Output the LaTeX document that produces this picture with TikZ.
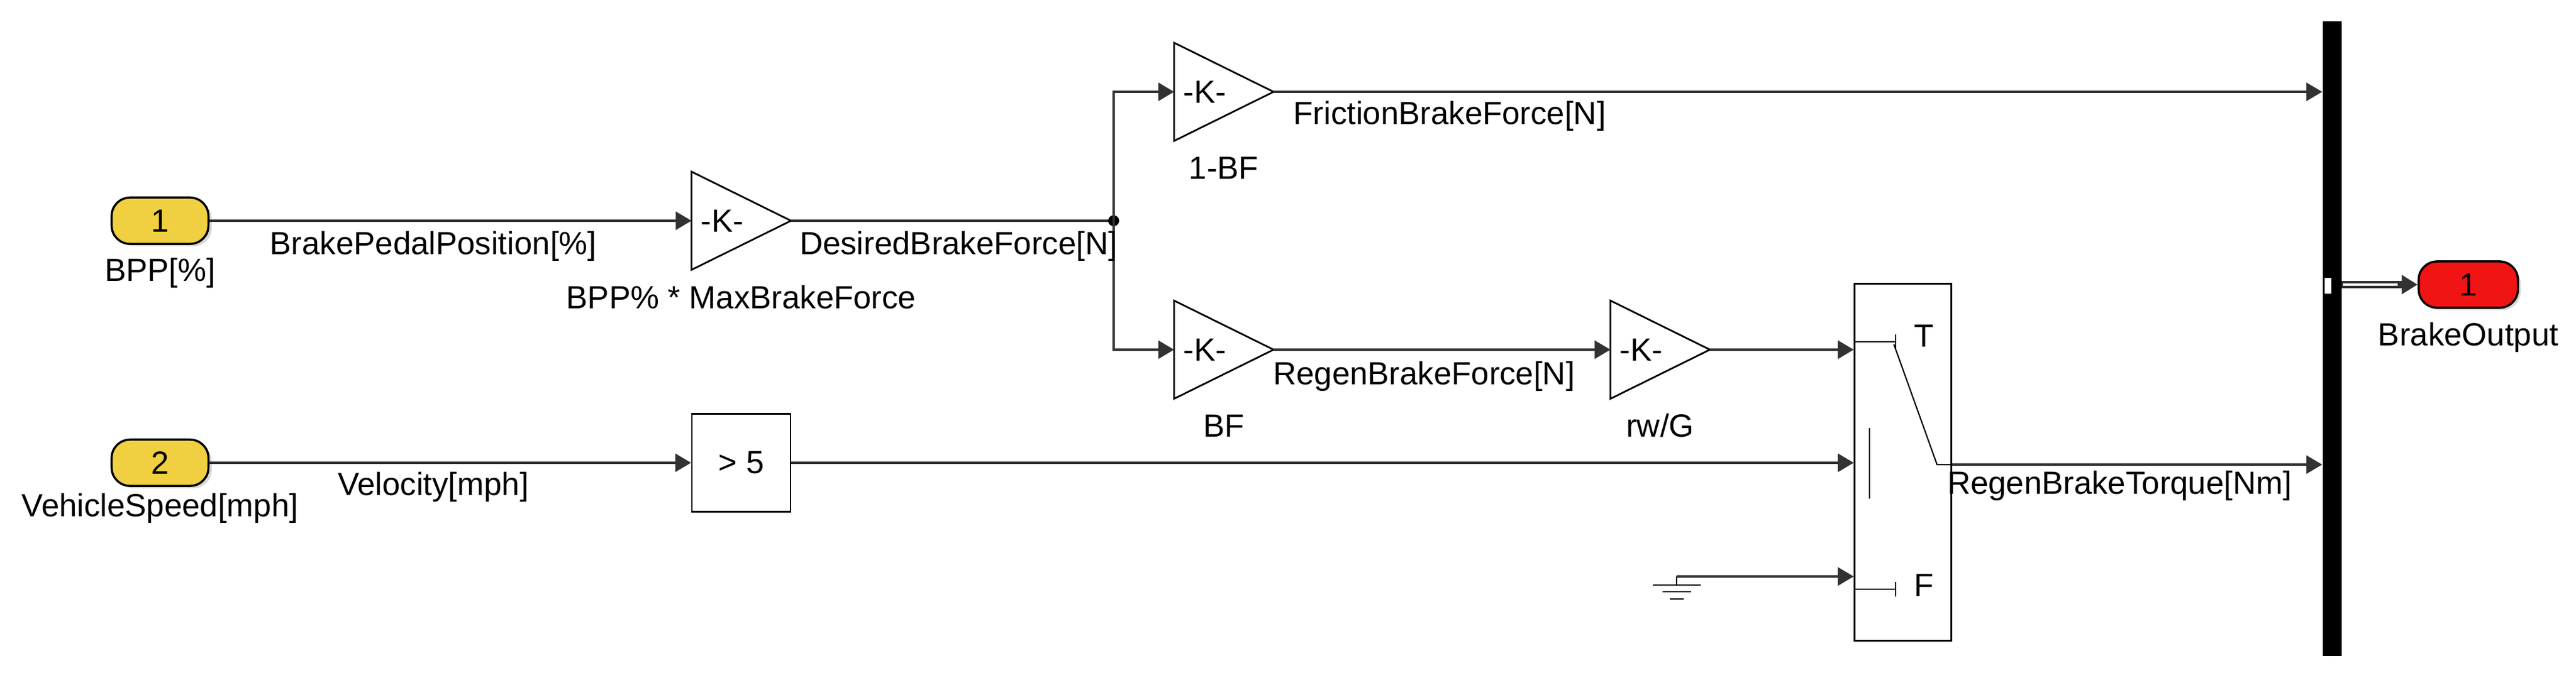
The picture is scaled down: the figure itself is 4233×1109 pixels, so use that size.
\documentclass[tikz,border=0pt]{standalone}
\usepackage{fontspec}
\setmainfont{Liberation Sans}
\usetikzlibrary{arrows.meta,calc}
\definecolor{inY}{RGB}{240,208,64}
\definecolor{outR}{RGB}{240,20,20}
\definecolor{wire}{RGB}{50,50,50}
\begin{document}
\begin{tikzpicture}[x=0.01cm,y=-0.01cm,
  font=\fontsize{15pt}{18pt}\selectfont,
  sig/.style={draw=wire,line width=0.9pt,-{Triangle[length=0.26cm,width=0.3cm]}},
  wr/.style={draw=wire,line width=0.9pt},
  port/.style={rounded corners=0.3cm,minimum width=1.59cm,minimum height=0.76cm,draw=black,line width=1pt,inner sep=0pt},
  shad/.style={rounded corners=0.3cm,fill=gray!30},
  gain/.style={minimum width=1.62cm,minimum height=1.6cm,inner sep=0pt,draw=none},
  lbl/.style={inner sep=0pt}]
\useasboundingbox (0,0) rectangle (4233,1109);
% inports
\fill[shad] (189,331) rectangle (348,405);
\node[port,fill=inY] (in1) at (263,363) {1};
\node[lbl] at (263,449) {BPP[\%]};
\fill[shad] (189,729) rectangle (348,803);
\node[port,fill=inY] (in2) at (263,761) {2};
\node[lbl] at (263,836) {VehicleSpeed[mph]};
% gains
\foreach \n/\x/\y in {gbpp/1218/363, g1/2011/151, gbf/2011/575, grw/2728/575}{
  \node[gain] (\n) at (\x,\y) {};
  \draw[line width=0.8pt] (\n.north west) -- (\n.east) -- (\n.south west) -- cycle;
  \node[lbl,anchor=west] at ([xshift=0.15cm]\n.west) {-K-};
}
\node[lbl] at (1218,489) {BPP\% * MaxBrakeForce};
\node[lbl] at (2011,276) {1-BF};
\node[lbl] at (2011,700) {BF};
\node[lbl] at (2728,700) {rw/G};
% compare
\node[draw,line width=0.8pt,minimum width=1.62cm,minimum height=1.61cm] (cmp) at (1218,761) {> 5};
% switch
\node[draw,line width=0.8pt,minimum width=1.59cm,minimum height=5.87cm] (sw) at (3127,760) {};
\coordinate (swo) at (3183,764);
\draw[line width=0.6pt] (3048,562) -- (3115,562) (3115,550) -- (3115,574);
\draw[line width=0.6pt] (3048,969) -- (3115,969) (3115,957) -- (3115,981);
\draw[line width=0.6pt] (3072,704) -- (3072,820);
\draw[line width=0.6pt] (3112,566) -- (swo) -- (sw.east |- swo);
\node[lbl] at (3162,552) {T};
\node[lbl] at (3162,962) {F};
% ground
\coordinate (gnd) at (2755,948);
\draw[line width=0.7pt] (2755,962) -- (gnd) (2716,962) -- (2795,962) (2732,973) -- (2779,973) (2744,985) -- (2767,985);
% bus
\node[fill=black,minimum width=0.31cm,minimum height=10.44cm,inner sep=0pt] (bus) at (3832,557) {};
\fill[white] (3819,456) rectangle (3832,484);
\draw[line width=0.5pt] (3819,456) rectangle (3832,484);
% outport
\fill[shad] (3979,436) rectangle (4142,510);
\node[port,fill=outR,minimum width=1.63cm] (out) at (4056,468) {1};
\node[lbl] at (4056,555) {BrakeOutput};
% wires
\draw[sig] (in1.east) -- (gbpp.west);
\coordinate (br) at (1830,363);
\draw[wr] (gbpp.east) -- (br);
\fill (br) circle (0.09cm);
\draw[sig] (br) |- (g1.west);
\draw[sig] (br) |- (gbf.west);
\draw[sig] (g1.east) -- (g1.east -| bus.west);
\draw[sig] (gbf.east) -- (grw.west);
\draw[sig] (grw.east) -- (grw.east -| sw.west);
\draw[sig] (in2.east) -- (cmp.west);
\draw[sig] (cmp.east) -- (cmp.east -| sw.west);
\draw[sig] (gnd) -- (gnd -| sw.west);
\draw[sig] (sw.east |- swo) -- (swo -| bus.west);
\draw[line width=3.2pt,draw=wire,-{Triangle[length=0.26cm,width=0.3cm]}] (bus.east |- out) -- (out.west);
\draw[line width=1.4pt,white] (3850,468) -- (3940,468);
% signal labels
\node[lbl] at (712,405) {BrakePedalPosition[\%]};
\node[lbl] at (1575,405) {DesiredBrakeForce[N]};
\node[lbl,anchor=west] at (2125,191) {FrictionBrakeForce[N]};
\node[lbl] at (2340,619) {RegenBrakeForce[N]};
\node[lbl] at (712,801) {Velocity[mph]};
\node[lbl] at (3483,799) {RegenBrakeTorque[Nm]};
\end{tikzpicture}
\end{document}
